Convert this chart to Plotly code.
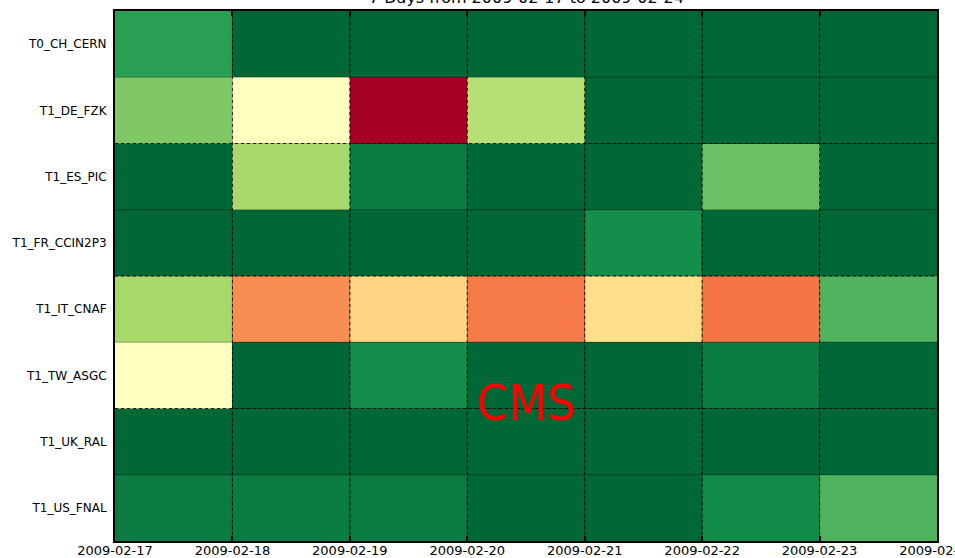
import plotly.graph_objects as go

sites = ["T0_CH_CERN", "T1_DE_FZK", "T1_ES_PIC", "T1_FR_CCIN2P3",
         "T1_IT_CNAF", "T1_TW_ASGC", "T1_UK_RAL", "T1_US_FNAL"]
days = ["2009-02-17", "2009-02-18", "2009-02-19", "2009-02-20",
        "2009-02-21", "2009-02-22", "2009-02-23", "2009-02-24"]

# quality (%) per site per day
T0_CH_CERN = [88, 100, 100, 100, 100, 100, 100]
T1_DE_FZK = [76, 50, 0, 67, 100, 100, 100]
T1_ES_PIC = [100, 70, 96, 100, 100, 79, 100]
T1_FR_CCIN2P3 = [100, 100, 100, 100, 92, 100, 100]
T1_IT_CNAF = [70, 25, 38, 22, 40, 21, 83]
T1_TW_ASGC = [50, 100, 92, 100, 100, 96, 100]
T1_UK_RAL = [100, 100, 100, 100, 100, 100, 100]
T1_US_FNAL = [96, 96, 96, 100, 100, 93, 83]

z = [T0_CH_CERN, T1_DE_FZK, T1_ES_PIC, T1_FR_CCIN2P3,
     T1_IT_CNAF, T1_TW_ASGC, T1_UK_RAL, T1_US_FNAL]

ncol = len(days) - 1
nrow = len(sites)
xs = list(range(ncol))

FONT = "DejaVu Sans"
CMSFONT = "DejaVu Sans Condensed, Liberation Sans Narrow, DejaVu Sans"

fig = go.Figure(go.Heatmap(
    z=z, x=xs, y=sites, colorscale="RdYlGn", zmin=0, zmax=100,
    showscale=False, hoverinfo="skip"))

# cell edges
for i in range(1, ncol):
    fig.add_vline(x=i - 0.5, line=dict(color="rgba(0,0,0,0.35)", width=1))
for j in range(1, nrow):
    fig.add_hline(y=j - 0.5, line=dict(color="rgba(0,0,0,0.35)", width=1))
# dotted grid
for i in range(1, ncol):
    fig.add_vline(x=i - 0.5, line=dict(color="rgba(0,0,0,0.8)", width=1, dash="dot"))
for j in range(2, nrow, 2):
    fig.add_hline(y=j - 0.5, line=dict(color="rgba(0,0,0,0.8)", width=1, dash="dot"))

fig.update_xaxes(
    range=[-0.5, ncol - 0.5], automargin=False, ticklabeloverflow="allow",
    tickmode="array", tickvals=[i - 0.5 for i in range(len(days))], ticktext=days,
    ticks="inside", ticklen=5, tickwidth=2, tickcolor="black",
    showline=True, linecolor="black", linewidth=2, mirror="allticks",
    showgrid=False, zeroline=False, ticklabelstandoff=-4,
    tickfont=dict(family=FONT, size=13, color="black"),
)
fig.update_yaxes(
    autorange="reversed", automargin=False, ticks="", showline=True, linecolor="black",
    linewidth=2, mirror=True, showgrid=False, zeroline=False,
    tickfont=dict(family=FONT, size=12, color="black"), ticklabelstandoff=4,
)

fig.add_annotation(text="7 Days from 2009-02-17 to 2009-02-24", xref="paper", yref="paper",
                   x=0.5, y=1.0, yshift=2, yanchor="bottom", showarrow=False,
                   font=dict(family=FONT, size=16, color="black"))
fig.add_annotation(text="CMS", xref="paper", yref="paper", x=0.5, y=0.26,
                   xanchor="center", yanchor="middle", showarrow=False,
                   font=dict(family=CMSFONT, size=50, color="red"))

fig.update_layout(
    width=955, height=558,
    margin=dict(l=115, r=18, t=11, b=17),
    paper_bgcolor="white", plot_bgcolor="white",
)

fig.write_html("out.html", config={"displayModeBar": False},
               post_script="document.body.style.margin='0px';document.body.style.overflow='hidden';")
